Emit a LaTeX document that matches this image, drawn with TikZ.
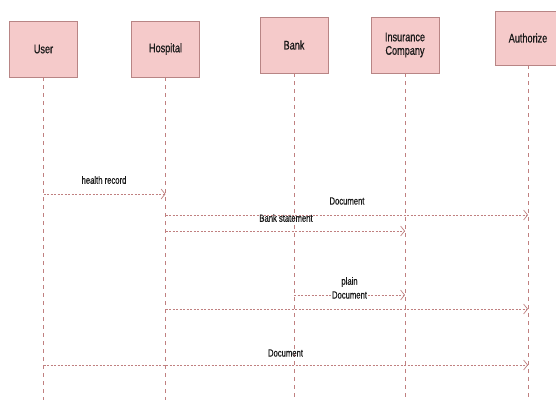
\documentclass[tikz,border=0pt]{standalone}
\usepackage{fontspec}
\setmainfont[FakeStretch=0.73,FakeBold=0.6]{Liberation Sans}
\usetikzlibrary{arrows.meta}
\definecolor{boxfill}{HTML}{F5CACA}
\definecolor{boxline}{HTML}{B88585}
\definecolor{msgcol}{HTML}{C08080}
\tikzset{
  actor/.style={draw=boxline, fill=boxfill, line width=0.8pt, minimum width=68pt, minimum height=56pt, align=center, font=\fontsize{12.5}{13.5}\selectfont, text=black!90, inner sep=1pt},
  life/.style={draw=msgcol, line width=0.6pt, dash pattern=on 4pt off 4pt},
  msg/.style={draw=msgcol, line width=0.7pt, dash pattern=on 2pt off 1.5pt, -{Straight Barb[length=4pt,width=10pt,line width=0.7pt]}},
  lbl/.style={font=\fontsize{10.5}{11.5}\selectfont, text=black!90, inner sep=1pt}
}
\begin{document}
\begin{tikzpicture}[x=1pt,y=-1pt]
\useasboundingbox (0,0) rectangle (556,400);
\fill[white] (0,0) rectangle (556,400);
\node[actor] (user) at (43.5,49) {User};
\node[actor] (hosp) at (165.5,49) {Hospital};
\node[actor] (bank) at (294,45) {Bank};
\node[actor] (ins) at (405,45) {Insurance\\Company};
\node[actor, minimum width=66pt, minimum height=54pt] (auth) at (528,38) {Authorize};
% lifeline ends
\coordinate (userE) at (user.south |- 0,400);
\coordinate (hospE) at (hosp.south |- 0,400);
\coordinate (bankE) at (bank.south |- 0,400);
\coordinate (insE) at (ins.south |- 0,400);
\coordinate (authE) at (auth.south |- 0,400);
\draw[life] (user.south) -- (userE);
\draw[life] (hosp.south) -- (hospE);
\draw[life] (bank.south) -- (bankE);
\draw[life] (ins.south) -- (insE);
\draw[life] (auth.south) -- (authE);
% message end points
\coordinate (m1a) at (user.south |- 0,194);
\coordinate (m1b) at (hosp.south |- 0,194);
\coordinate (m2a) at (hosp.south |- 0,215);
\coordinate (m2b) at (auth.south |- 0,215);
\coordinate (m3a) at (hosp.south |- 0,231);
\coordinate (m3b) at (ins.south |- 0,231);
\coordinate (m4a) at (bank.south |- 0,295);
\coordinate (m4b) at (ins.south |- 0,295);
\coordinate (m5a) at (hosp.south |- 0,309);
\coordinate (m5b) at (auth.south |- 0,309);
\coordinate (m6a) at (user.south |- 0,365);
\coordinate (m6b) at (auth.south |- 0,365);
\draw[msg] (m1a) -- (m1b);
\draw[msg] (m2a) -- (m2b);
\draw[msg] (m3a) -- (m3b);
\draw[msg] (m4a) -- (m4b);
\draw[msg] (m5a) -- (m5b);
\draw[msg] (m6a) -- (m6b);
\node[lbl] (l1) at (104,180) {health record};
\node[lbl] (l2) at (347,201) {Document};
\node[lbl] (l3) at (286,218) {Bank statement};
\node[lbl, fill=white] (l4) at (349.5,295) {Document};
\node[lbl] (l4b) at (349.5,282) {plain};
\node[lbl] (l6) at (285.5,353) {Document};
\end{tikzpicture}
\end{document}
